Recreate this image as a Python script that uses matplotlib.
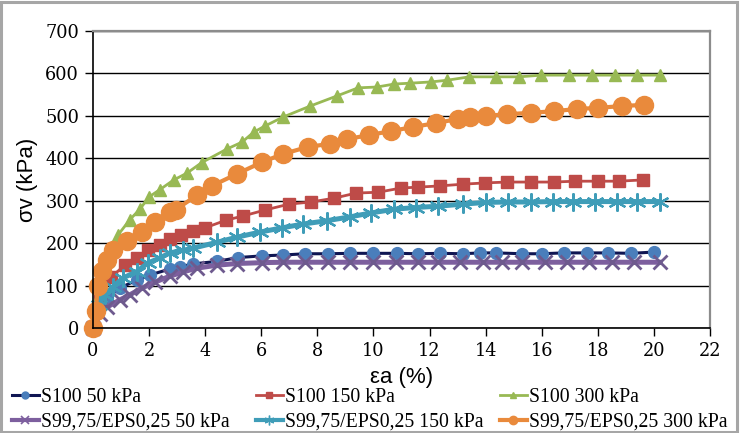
import matplotlib
matplotlib.use("Agg")
import matplotlib.pyplot as plt
from matplotlib.lines import Line2D
from matplotlib.patches import Rectangle

# ---------------- data ----------------
x_s100_50 = [0, 0.17, 0.49, 0.95, 1.56, 2.03, 2.74, 3.1, 3.56, 4.42, 5.17, 6.02, 6.77, 7.56, 8.38,
             9.17, 10.0, 10.85, 11.6, 12.38, 13.2, 13.8, 14.38, 15.3, 16.0, 16.78, 17.6, 18.35, 19.2, 20.0]
y_s100_50 = [0, 55, 71, 94, 113, 125, 139, 144, 151, 157, 166, 170, 172, 175, 175,
             176, 176, 176, 175, 176, 175, 177, 177, 175, 175, 177, 177, 177, 176, 179]

x_s100_150 = [0, 0.25, 0.65, 1.13, 1.57, 1.95, 2.38, 2.74, 3.13, 3.56, 3.99, 4.74, 5.35, 6.13, 6.99,
              7.78, 8.6, 9.38, 10.17, 10.99, 11.6, 12.38, 13.2, 13.99, 14.77, 15.6, 16.42, 17.2, 17.99, 18.74, 19.6]
y_s100_150 = [0, 70, 120, 148, 165, 184, 196, 210, 219, 229, 236, 254, 264, 278, 292,
              297, 306, 318, 320, 330, 332, 335, 339, 342, 344, 344, 344, 346, 346, 346, 349]

x_s100_300 = [0, 0.25, 0.55, 0.89, 1.31, 1.67, 2.0, 2.38, 2.88, 3.35, 3.88, 4.78, 5.31, 5.74, 6.13,
              6.77, 7.74, 8.7, 9.45, 10.13, 10.74, 11.31, 12.06, 12.63, 13.42, 14.38, 15.2, 15.99,
              16.99, 17.78, 18.6, 19.38, 20.2]
y_s100_300 = [0, 80, 160, 219, 255, 280, 309, 326, 349, 365, 390, 422, 438, 462, 476,
              497, 523, 547, 566, 568, 575, 577, 580, 584, 592, 592, 592, 596,
              596, 596, 596, 596, 596]

x_eps_50 = [0, 0.25, 0.49, 0.95, 1.31, 1.74, 2.2, 2.74, 3.2, 3.7, 4.42, 5.13, 6.03, 6.77, 7.56, 8.38,
            9.17, 10.0, 10.8, 11.6, 12.3, 13.1, 13.9, 14.6, 15.3, 16.1, 16.9, 17.7, 18.5, 19.3, 20.2]
y_eps_50 = [0, 32, 49, 66, 78, 94, 108, 122, 132, 141, 148, 152, 154, 155, 155, 155,
            155, 155, 155, 155, 155, 155, 155, 155, 155, 155, 155, 155, 155, 155, 155]

x_eps_150 = [0, 0.2, 0.42, 0.71, 1.07, 1.56, 1.95, 2.38, 2.74, 3.2, 3.56, 4.42, 5.13, 5.95, 6.74, 7.49,
             8.35, 9.17, 9.9, 10.74, 11.5, 12.3, 13.2, 14.0, 14.8, 15.6, 16.4, 17.1, 17.9, 18.7, 19.4, 20.2]
y_eps_150 = [0, 55, 78, 97, 118, 133, 153, 165, 177, 183, 188, 202, 214, 226, 236, 245,
             253, 262, 271, 280, 284, 287, 292, 296, 297, 297, 298, 298, 298, 298, 298, 298]

x_eps_300 = [0, 0.1, 0.17, 0.31, 0.49, 0.7, 1.2, 1.74, 2.2, 2.74, 2.95, 3.71, 4.24, 5.13, 6.03, 6.77,
             7.67, 8.45, 9.06, 9.85, 10.63, 11.42, 12.24, 13.03, 13.45, 14.02, 14.77, 15.6, 16.42,
             17.24, 18.02, 18.85, 19.63]
y_eps_300 = [0, 40, 99, 134, 160, 184, 205, 226, 250, 273, 279, 313, 335, 363, 391, 410,
             427, 434, 445, 455, 464, 474, 483, 493, 497, 500, 504, 507, 511,
             516, 519, 523, 526]

labels = ["S100 50 kPa", "S100 150 kPa", "S100 300 kPa",
          "S99,75/EPS0,25 50 kPa", "S99,75/EPS0,25 150 kPa", "S99,75/EPS0,25 300 kPa"]
x_ticks = list(range(0, 23, 2))
y_ticks = list(range(0, 701, 100))

# ---------------- styles ----------------
ASTER = (6, 2, 0)
styles = [
    dict(color="#0f1552", marker="o", mfc="#4a7ebb", mec="#4a7ebb", ms=8.5, lw=2.2),
    dict(color="#be4b48", marker="s", mfc="#be4b48", mec="#be4b48", ms=8, lw=2.0),
    dict(color="#98b954", marker="^", mfc="#98b954", mec="#98b954", ms=9, lw=2.0),
    dict(color="#7d5f9e", marker="x", mfc="#7d5f9e", mec="#6e5a8e", ms=10, mew=2.0, lw=3.6),
    dict(color="#3f9db8", marker=ASTER, mfc="#3f9db8", mec="#3f9db8", ms=13, mew=1.6, lw=3.6),
    dict(color="#e98a3c", marker="o", mfc="#e98a3c", mec="#e98a3c", ms=13, lw=3.0),
]
series = [(x_s100_50, y_s100_50), (x_s100_150, y_s100_150), (x_s100_300, y_s100_300),
          (x_eps_50, y_eps_50), (x_eps_150, y_eps_150), (x_eps_300, y_eps_300)]

W, H = 740, 433
fig = plt.figure(figsize=(W / 100, H / 100), dpi=100)
fig.patch.set_facecolor("white")
fig.add_artist(Rectangle((0.002, 0.002), 0.994, 0.994, transform=fig.transFigure,
                         fill=False, ec="#a6a6a6", lw=2.2))

L, R, T, B = 93, 710, 31, 328
ax = fig.add_axes([L / W, 1 - B / H, (R - L) / W, (B - T) / H])
ax.set_xlim(0, 22)
ax.set_ylim(0, 700)
ax.set_xticks(x_ticks)
ax.set_yticks(y_ticks)
ax.grid(axis="y", color="black", lw=1.0)
ax.set_axisbelow(True)
for s in ("left", "bottom"):
    ax.spines[s].set_color("black")
    ax.spines[s].set_linewidth(1.2)
for s in ("top", "right"):
    ax.spines[s].set_color("#8c8c8c")
    ax.spines[s].set_linewidth(1.6)
ax.tick_params(direction="out", length=6, width=1.0, color="black",
               labelsize=12.8, pad=4)
for lab in ax.get_xticklabels() + ax.get_yticklabels():
    lab.set_fontfamily("DejaVu Serif")

for (xs, ys), st in zip(series, styles):
    ax.plot(xs, ys, clip_on=False, **st)

ax.set_ylabel("σv (kPa)", fontsize=16, fontfamily="Liberation Sans", labelpad=5)
ax.set_xlabel("εa (%)", fontsize=16, fontfamily="Liberation Sans", labelpad=5)

# legend: three columns, two rows each
leg_styles = [
    dict(color="#0f1552", marker="o", mfc="#4a7ebb", mec="#4a7ebb", ms=5, lw=2.2),
    dict(color="#be4b48", marker="s", mfc="#be4b48", mec="#be4b48", ms=5, lw=2.0),
    dict(color="#98b954", marker="^", mfc="#98b954", mec="#98b954", ms=5, lw=2.0),
    dict(color="#7d5f9e", marker="x", mfc="#7d5f9e", mec="#7d5f9e", ms=6, mew=1.2, lw=3.0),
    dict(color="#3f9db8", marker=ASTER, mfc="#3f9db8", mec="#3f9db8", ms=7, mew=1.0, lw=3.0),
    dict(color="#e98a3c", marker="o", mfc="#e98a3c", mec="#e98a3c", ms=6, lw=3.0),
]
handles = [Line2D([], [], **st) for st in leg_styles]
col_x = [12, 256, 500]
for c in range(3):
    leg = fig.legend([handles[c], handles[c + 3]], [labels[c], labels[c + 3]],
                     loc="upper left", bbox_to_anchor=(col_x[c] / W, 1 - 388 / H),
                     frameon=False, borderpad=0, borderaxespad=0,
                     handlelength=1.35, handletextpad=0.1, labelspacing=0.3,
                     prop=dict(family="Liberation Serif", size=14.2))

fig.savefig("out.png", dpi=100, facecolor="white")
